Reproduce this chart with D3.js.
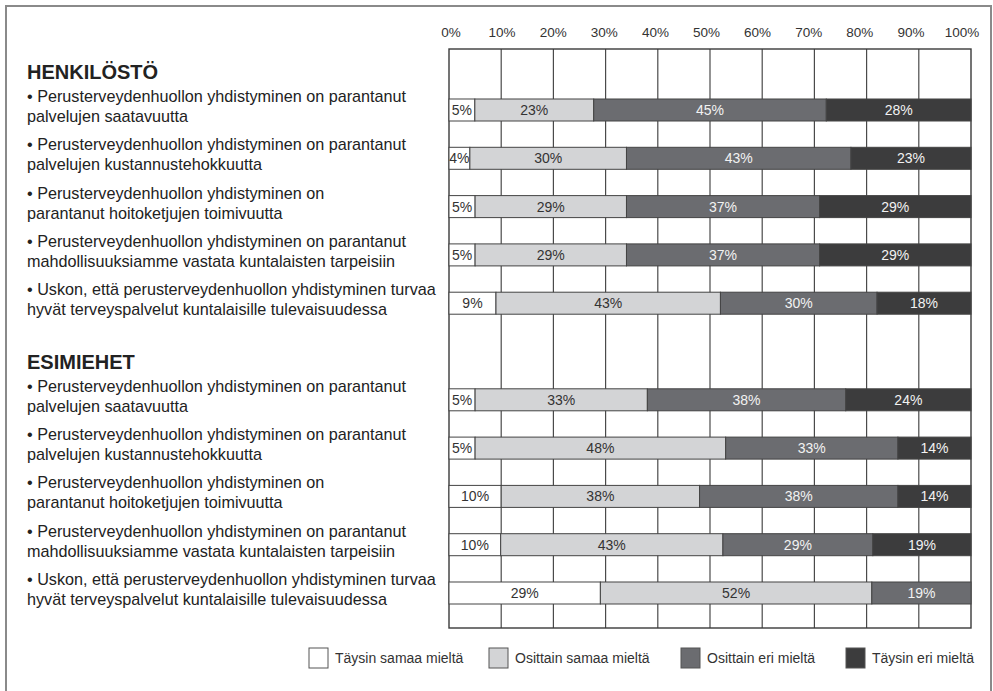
<!DOCTYPE html>
<html>
<head>
<meta charset="utf-8">
<script src="https://cdn.jsdelivr.net/npm/d3@7"></script>
<style>
  html, body { margin: 0; padding: 0; background: #fff; }
  svg { display: block; font-family: "Liberation Sans", Arial, sans-serif; }
</style>
</head>
<body>
<svg id="chart" width="993" height="691"></svg>
<script>
// Survey answers: share of respondents per answer class, one row per statement
const groupTitles = ["HENKILÖSTÖ", "ESIMIEHET"];
const statements = [
  ["• Perusterveydenhuollon yhdistyminen on parantanut", "palvelujen saatavuutta"],
  ["• Perusterveydenhuollon yhdistyminen on parantanut", "palvelujen kustannustehokkuutta"],
  ["• Perusterveydenhuollon yhdistyminen on", "parantanut hoitoketjujen toimivuutta"],
  ["• Perusterveydenhuollon yhdistyminen on parantanut", "mahdollisuuksiamme vastata kuntalaisten tarpeisiin"],
  ["• Uskon, että perusterveydenhuollon yhdistyminen turvaa", "hyvät terveyspalvelut kuntalaisille tulevaisuudessa"]
];
const rowKeys = ["H1", "H2", "H3", "H4", "H5", "gap", "E1", "E2", "E3", "E4", "E5"];
const answerClasses = ["Täysin samaa mieltä", "Osittain samaa mieltä", "Osittain eri mieltä", "Täysin eri mieltä"];
// values for rows H1..H5, E1..E5
const taysinSamaa   = [5, 4, 5, 5, 9,   5, 5, 10, 10, 29];
const osittainSamaa = [23, 30, 29, 29, 43,  33, 48, 38, 43, 52];
const osittainEri   = [45, 43, 37, 37, 30,  38, 33, 38, 29, 19];
const taysinEri     = [28, 23, 29, 29, 18,  24, 14, 14, 19, 0];
const tickValues = [0, 10, 20, 30, 40, 50, 60, 70, 80, 90, 100];
const tickLabels = ["0%", "10%", "20%", "30%", "40%", "50%", "60%", "70%", "80%", "90%", "100%"];

const fills = ["#ffffff", "#d3d4d6", "#6b6c70", "#3c3c3d"];
const labelColors = ["#333333", "#333333", "#f2f2f2", "#f2f2f2"];

const barKeys = rowKeys.filter(k => k !== "gap");
const table = barKeys.map((k, i) => ({
  key: k,
  [answerClasses[0]]: taysinSamaa[i],
  [answerClasses[1]]: osittainSamaa[i],
  [answerClasses[2]]: osittainEri[i],
  [answerClasses[3]]: taysinEri[i]
}));

const svg = d3.select("#chart");

// outer frame
svg.append("rect")
  .attr("x", 6).attr("y", 6).attr("width", 985).attr("height", 700)
  .attr("fill", "none").attr("stroke", "#8a8a8a").attr("stroke-width", 2);

const plot = { left: 449, right: 971, top: 49, bottom: 628 };

const x = d3.scaleLinear().domain([0, 100]).range([plot.left, plot.right]);
const xShare = d3.scaleLinear().domain([0, 1]).range([plot.left, plot.right]);
const xLabel = d3.scaleLinear().domain([0, 100]).range([451, 962]);

const y = d3.scaleBand()
  .domain(rowKeys)
  .range([85.85, 617.15])
  .paddingInner(0.5445)
  .paddingOuter(0.27225);

// vertical grid
svg.append("g").selectAll("line")
  .data(tickValues.slice(1, -1))
  .join("line")
  .attr("x1", d => x(d)).attr("x2", d => x(d))
  .attr("y1", plot.top).attr("y2", plot.bottom)
  .attr("stroke", "#4a4a4a").attr("stroke-width", 1.2);

// plot border
svg.append("rect")
  .attr("x", plot.left).attr("y", plot.top)
  .attr("width", plot.right - plot.left).attr("height", plot.bottom - plot.top)
  .attr("fill", "none").attr("stroke", "#3a3a3a").attr("stroke-width", 1.4);

// tick labels
svg.append("g").selectAll("text")
  .data(tickValues)
  .join("text")
  .attr("x", d => xLabel(d)).attr("y", 37)
  .attr("text-anchor", "middle")
  .attr("font-size", 13.5).attr("fill", "#333")
  .text((d, i) => tickLabels[i]);

// stacked, normalised bars
const stack = d3.stack().keys(answerClasses).offset(d3.stackOffsetExpand);
const series = stack(table);

const layers = svg.append("g").selectAll("g")
  .data(series)
  .join("g")
  .attr("fill", (s, i) => fills[i]);

layers.selectAll("rect")
  .data(s => s.filter(d => d[1] > d[0]))
  .join("rect")
  .attr("x", d => xShare(d[0]))
  .attr("y", d => y(d.data.key))
  .attr("width", d => xShare(d[1]) - xShare(d[0]))
  .attr("height", y.bandwidth())
  .attr("stroke", "#444").attr("stroke-width", 1);

// value labels
layers.each(function (s, si) {
  d3.select(this).selectAll("text")
    .data(s.filter(d => d[1] > d[0]))
    .join("text")
    .attr("x", d => (xShare(d[0]) + xShare(d[1])) / 2)
    .attr("y", d => y(d.data.key) + y.bandwidth() / 2)
    .attr("dy", "0.36em")
    .attr("text-anchor", "middle")
    .attr("font-size", 14)
    .attr("fill", labelColors[si])
    .text(d => d.data[s.key] + "%");
});

// group titles and statements
const textLeft = 27;
const titleRows = ["H1", "E1"];
groupTitles.forEach((t, gi) => {
  svg.append("text")
    .attr("x", textLeft).attr("y", y(titleRows[gi]) - 20)
    .attr("font-size", 20).attr("font-weight", "bold").attr("fill", "#222")
    .text(t);
});

const stmtG = svg.append("g");
barKeys.forEach((k, i) => {
  const lines = statements[i % 5];
  const t = stmtG.append("text")
    .attr("x", textLeft).attr("y", y(k) + 3)
    .attr("font-size", 16.2).attr("fill", "#222");
  lines.forEach((ln, li) => {
    t.append("tspan").attr("x", textLeft).attr("dy", li === 0 ? 0 : 20).text(ln);
  });
});

// legend
const legendX = [309, 489, 681, 846];
const legend = svg.append("g").selectAll("g")
  .data(answerClasses)
  .join("g")
  .attr("transform", (d, i) => `translate(${legendX[i]},648)`);
legend.append("rect")
  .attr("width", 19).attr("height", 20)
  .attr("fill", (d, i) => fills[i]).attr("stroke", "#555").attr("stroke-width", 1);
legend.append("text")
  .attr("x", 26).attr("y", 10).attr("dy", "0.36em")
  .attr("font-size", 14).attr("fill", "#333")
  .text(d => d);
</script>
</body>
</html>
